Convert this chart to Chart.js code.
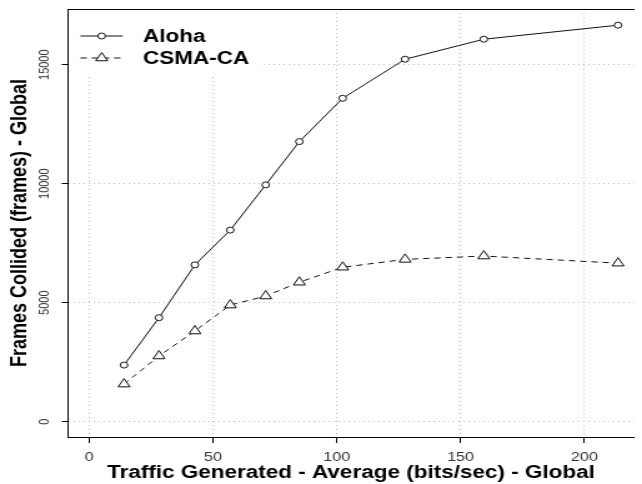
<!DOCTYPE html>
<html>
<head>
<meta charset="utf-8">
<script src="https://cdn.jsdelivr.net/npm/chart.js@4"></script>
<style>
  html, body { margin: 0; padding: 0; background: #fff; }
  /* the source picture is stretched sideways, so the canvas is too */
  #myChart { width: 642px !important; height: 484px !important; display: block; }
</style>
</head>
<body>
<canvas id="myChart" width="514" height="484"></canvas>
<script>
const traffic = [14.1, 28.2, 42.7, 57.0, 71.3, 84.9, 102.4, 127.6, 159.4, 213.6];
const aloha = [2380, 4370, 6590, 8050, 9950, 11770, 13590, 15230, 16070, 16660];
const csmaCa = [1580, 2760, 3810, 4900, 5280, 5860, 6490, 6820, 6960, 6660];
const seriesNames = ['Aloha', 'CSMA-CA'];
const xTicks = [0, 50, 100, 150, 200];
const yTicks = [0, 5000, 10000, 15000];
const xTitle = 'Traffic Generated - Average (bits/sec) - Global';
const yTitle = 'Frames Collided (frames) - Global';

const FONT = "'Liberation Sans', Arial, sans-serif";
Chart.defaults.font.family = FONT;
Chart.defaults.color = '#000';

function toPoints(ys) {
    return ys.map((y, i) => ({ x: traffic[i], y: y }));
}

function fixedTicks(values) {
    return (scale) => {
        scale.ticks = values.map(v => ({ value: v }));
    };
}

// legend in the top left corner, like R's legend() with a white box
const rLegend = {
    id: 'rLegend',
    afterDatasetsDraw(chart) {
        const ctx = chart.ctx;
        const area = chart.chartArea;
        ctx.save();
        ctx.fillStyle = '#fff';
        ctx.fillRect(area.left + 1, area.top + 1, 156, 67);
        chart.data.datasets.forEach((ds, i) => {
            const y = area.top + 27 + i * 22;
            ctx.strokeStyle = ds.borderColor;
            ctx.lineWidth = ds.borderWidth;
            ctx.setLineDash(ds.borderDash || []);
            ctx.beginPath();
            ctx.moveTo(area.left + 10, y);
            ctx.lineTo(area.left + 44, y);
            ctx.stroke();
            ctx.setLineDash([]);
            ctx.fillStyle = '#fff';
            Chart.helpers.drawPoint(ctx, {
                pointStyle: ds.pointStyle,
                radius: ds.pointRadius,
                borderWidth: ds.pointBorderWidth,
                rotation: 0
            }, area.left + 27, y);
            ctx.fillStyle = '#000';
            ctx.font = 'bold 18px ' + FONT;
            ctx.textBaseline = 'middle';
            ctx.textAlign = 'left';
            ctx.fillText(ds.label, area.left + 60, y + 1);
        });
        ctx.restore();
    }
};

// y tick labels turned upright, as R does by default
const yTickLabels = {
    id: 'yTickLabels',
    afterDraw(chart) {
        const ctx = chart.ctx;
        const scale = chart.scales.y;
        ctx.save();
        ctx.fillStyle = '#333';
        ctx.font = '11px ' + FONT;
        ctx.textAlign = 'center';
        ctx.textBaseline = 'middle';
        scale.ticks.forEach((t) => {
            ctx.save();
            ctx.translate(scale.right - 18.6, scale.getPixelForValue(t.value));
            ctx.rotate(-Math.PI / 2);
            ctx.fillText(String(t.value), 0, 0);
            ctx.restore();
        });
        ctx.restore();
    }
};

const ctx = document.getElementById('myChart');

new Chart(ctx, {
    type: 'line',
    data: {
        datasets: [{
            label: seriesNames[0],
            data: toPoints(aloha),
            borderColor: '#111',
            borderWidth: 1,
            pointStyle: 'circle',
            pointRadius: 3,
            pointBorderWidth: 1,
            pointBorderColor: '#111',
            pointBackgroundColor: '#fff',
            tension: 0
        }, {
            label: seriesNames[1],
            data: toPoints(csmaCa),
            borderColor: '#111',
            borderWidth: 1,
            borderDash: [5, 4],
            pointStyle: 'triangle',
            pointRadius: 5.5,
            pointBorderWidth: 1,
            pointBorderColor: '#111',
            pointBackgroundColor: '#fff',
            tension: 0
        }]
    },
    options: {
        responsive: false,
        animation: false,
        devicePixelRatio: 1,
        layout: {
            padding: { top: 9, right: 0, bottom: 0, left: 0 }
        },
        plugins: {
            legend: { display: false },
            tooltip: { enabled: false }
        },
        scales: {
            x: {
                type: 'linear',
                min: -8.56,
                max: 220,
                afterBuildTicks: fixedTicks(xTicks),
                afterFit: (s) => { s.height = 47; },
                ticks: {
                    color: '#333',
                    padding: 7,
                    font: { size: 13 },
                    callback: (v) => String(v)
                },
                grid: {
                    color: '#bdbdbd',
                    tickColor: '#000',
                    tickLength: 6,
                    tickWidth: 1
                },
                border: { color: '#000', width: 1, dash: [1, 3] },
                title: {
                    display: true,
                    text: xTitle,
                    color: '#000',
                    font: { size: 18, weight: 'bold' },
                    padding: { top: 0, bottom: 0 }
                }
            },
            x2: {
                type: 'linear',
                position: 'top',
                min: -8.56,
                max: 220,
                afterFit: (s) => { s.height = 0; },
                ticks: { display: false },
                grid: { display: false },
                border: { color: '#000', width: 1 }
            },
            y: {
                min: -643,
                max: 17340,
                afterBuildTicks: fixedTicks(yTicks),
                afterFit: (s) => {
                    s.width = 54.4;
                    s.paddingTop = 0;
                    s.paddingBottom = 0;
                },
                ticks: { display: false },
                grid: {
                    color: '#bdbdbd',
                    tickColor: '#000',
                    tickLength: 5,
                    tickWidth: 1
                },
                border: { color: '#000', width: 1, dash: [1, 3] },
                title: {
                    display: true,
                    text: yTitle,
                    color: '#000',
                    font: { size: 18, weight: 'bold' },
                    padding: { top: 5, bottom: 0 }
                }
            }
        }
    },
    plugins: [rLegend, yTickLabels]
});
</script>
</body>
</html>
